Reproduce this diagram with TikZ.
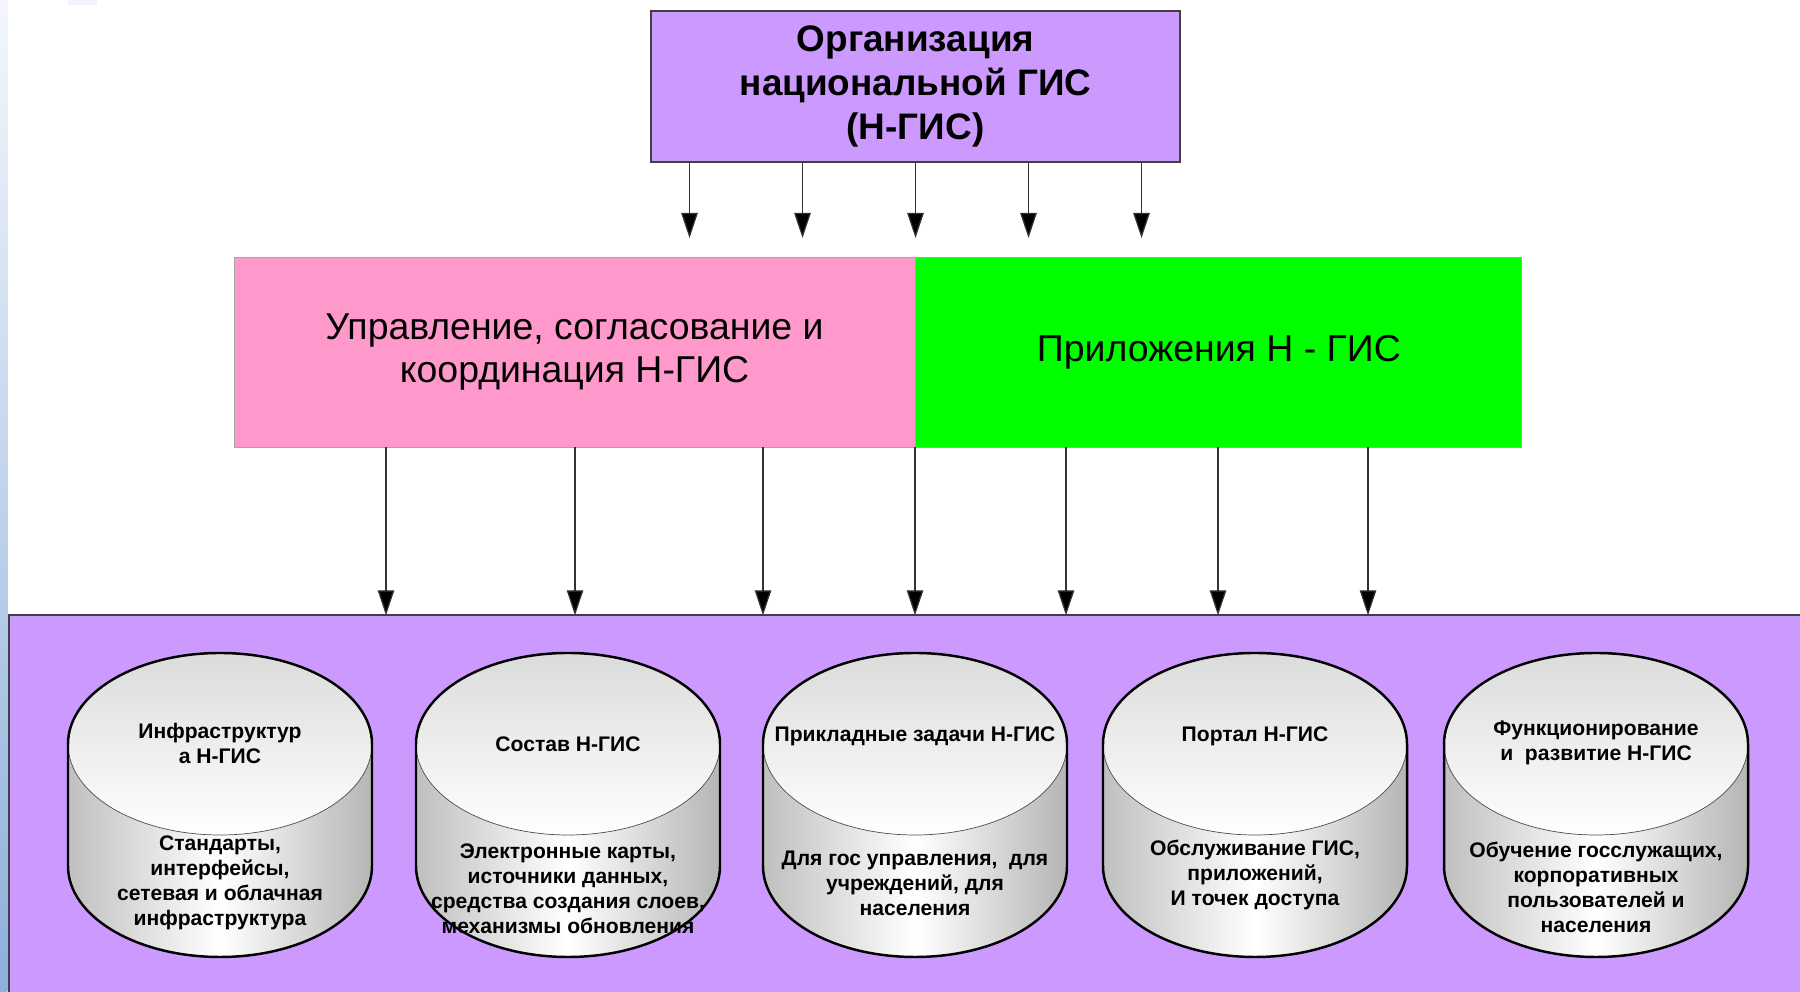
\documentclass[tikz,border=0pt]{standalone}
\usepackage{fontspec}
\setmainfont{Liberation Sans}
\definecolor{lilac}{HTML}{CC99FF}
\definecolor{rose}{HTML}{FF99CC}
\definecolor{lime}{HTML}{00FF00}
\definecolor{edge}{HTML}{404040}
\definecolor{slideblue}{HTML}{8DAFDC}
\usetikzlibrary{positioning, arrows.meta}

% drum for one part of the system, #1 = centre x
\newcommand{\gisdrum}[1]{%
  \shade[left color=gray!50, right color=gray!58, middle color=white]
    (#1-3.04,4.96) -- (#1-3.04,2.52) arc (180:360:3.04 and 1.82) -- (#1+3.04,4.96) -- cycle;
  \shade[top color=gray!28, bottom color=white] (#1,4.96) ellipse (3.04 and 1.82);
  \draw[gray!60!black, thin] (#1-3.04,4.96) arc (180:360:3.04 and 1.82);
  \draw[line width=1.4pt] (#1-3.04,4.96) arc (180:0:3.04 and 1.82)
    -- (#1+3.04,2.52) arc (360:180:3.04 and 1.82) -- cycle;
}

\begin{document}
\begin{tikzpicture}[
    arr/.style={line width=0.7pt, draw=black!80, -{Triangle[length=0.5cm, width=0.33cm, fill=black]}},
    bigbox/.style={draw=edge, line width=0.9pt, fill=lilac, inner sep=0pt,
      font=\bfseries\fontsize{21}{25}\selectfont, align=center},
    halfbar/.style={draw=gray!70, line width=0.5pt, inner sep=0pt,
      minimum height=3.8cm, font=\fontsize{21.3}{25}\selectfont, align=center},
    drumtitle/.style={font=\bfseries\fontsize{12}{14.2}\selectfont, align=center, inner sep=0pt},
    drumtext/.style={font=\bfseries\fontsize{12}{14.2}\selectfont, align=center, inner sep=0pt}
  ]
  \useasboundingbox (0,0) rectangle (36,19.84);

  % slide edge
  \shade[top color=slideblue!10, middle color=slideblue!45, bottom color=slideblue] (0,0) rectangle (0.15,19.84);
  \fill[slideblue!12] (1.36,19.74) rectangle (1.94,19.84);

  % top box
  \node[bigbox, minimum width=10.58cm, minimum height=3.02cm] (org) at (18.31,18.11)
    {Организация\\национальной ГИС\\(Н-ГИС)};

  % middle bar
  \node[halfbar, fill=rose, minimum width=13.62cm] (mgmt) at (11.49,12.8)
    {Управление, согласование и\\координация Н-ГИС};
  \node[halfbar, fill=lime, minimum width=12.12cm, anchor=west] (apps) at (mgmt.east)
    {Приложения Н - ГИС};

  % bottom panel
  \node[fill=lilac, inner sep=0pt, minimum width=35.82cm, minimum height=7.52cm,
    anchor=south west] (panel) at (0.18,0) {};
  \draw[edge, line width=1.2pt] (panel.south west) |- (panel.north east);

  % arrows from the top box
  \coordinate (gapline) at (0,15.08);
  \foreach \dx in {-4.52,-2.26,0,2.26,4.52} {
    \path ([xshift=\dx cm]org.south) coordinate (s);
    \draw[arr] (s) -- (s |- gapline);
  }

  % arrows down to the panel
  \foreach \x/\i in {7.72/1, 11.5/2, 15.26/3, 18.3/4, 21.32/5, 24.36/6, 27.36/7} {
    \coordinate (c\i) at (\x,0);
    \draw[arr] (mgmt.south -| c\i) -- (panel.north -| c\i);
  }

  % drums
  \gisdrum{4.4}
  \gisdrum{11.36}
  \gisdrum{18.3}
  \gisdrum{25.1}
  \gisdrum{31.92}

  \node[drumtitle] (t1) at (4.4,4.98) {Инфраструктур\\а Н-ГИС};
  \node[drumtext] (b1) at (4.4,2.18) {Стандарты,\\интерфейсы,\\сетевая и облачная\\инфраструктура};

  \node[drumtitle] (t2) at (11.36,4.96) {Состав Н-ГИС};
  \node[drumtext] (b2) at (11.36,2.06) {Электронные карты,\\источники данных,\\средства создания слоев,\\механизмы обновления};

  \node[drumtitle] (t3) at (18.3,5.12) {Прикладные задачи Н-ГИС};
  \node[drumtext] (b3) at (18.3,2.18) {Для гос управления,\ \ для\\учреждений, для\\населения};

  \node[drumtitle] (t4) at (25.1,5.12) {Портал Н-ГИС};
  \node[drumtext] (b4) at (25.1,2.34) {Обслуживание ГИС,\\приложений,\\И точек доступа};

  \node[drumtitle] (t5) at (31.92,4.98) {Функционирование\\и\ \ развитие Н-ГИС};
  \node[drumtext] (b5) at (31.92,2.1) {Обучение госслужащих,\\корпоративных\\пользователей и\\населения};
\end{tikzpicture}
\end{document}
